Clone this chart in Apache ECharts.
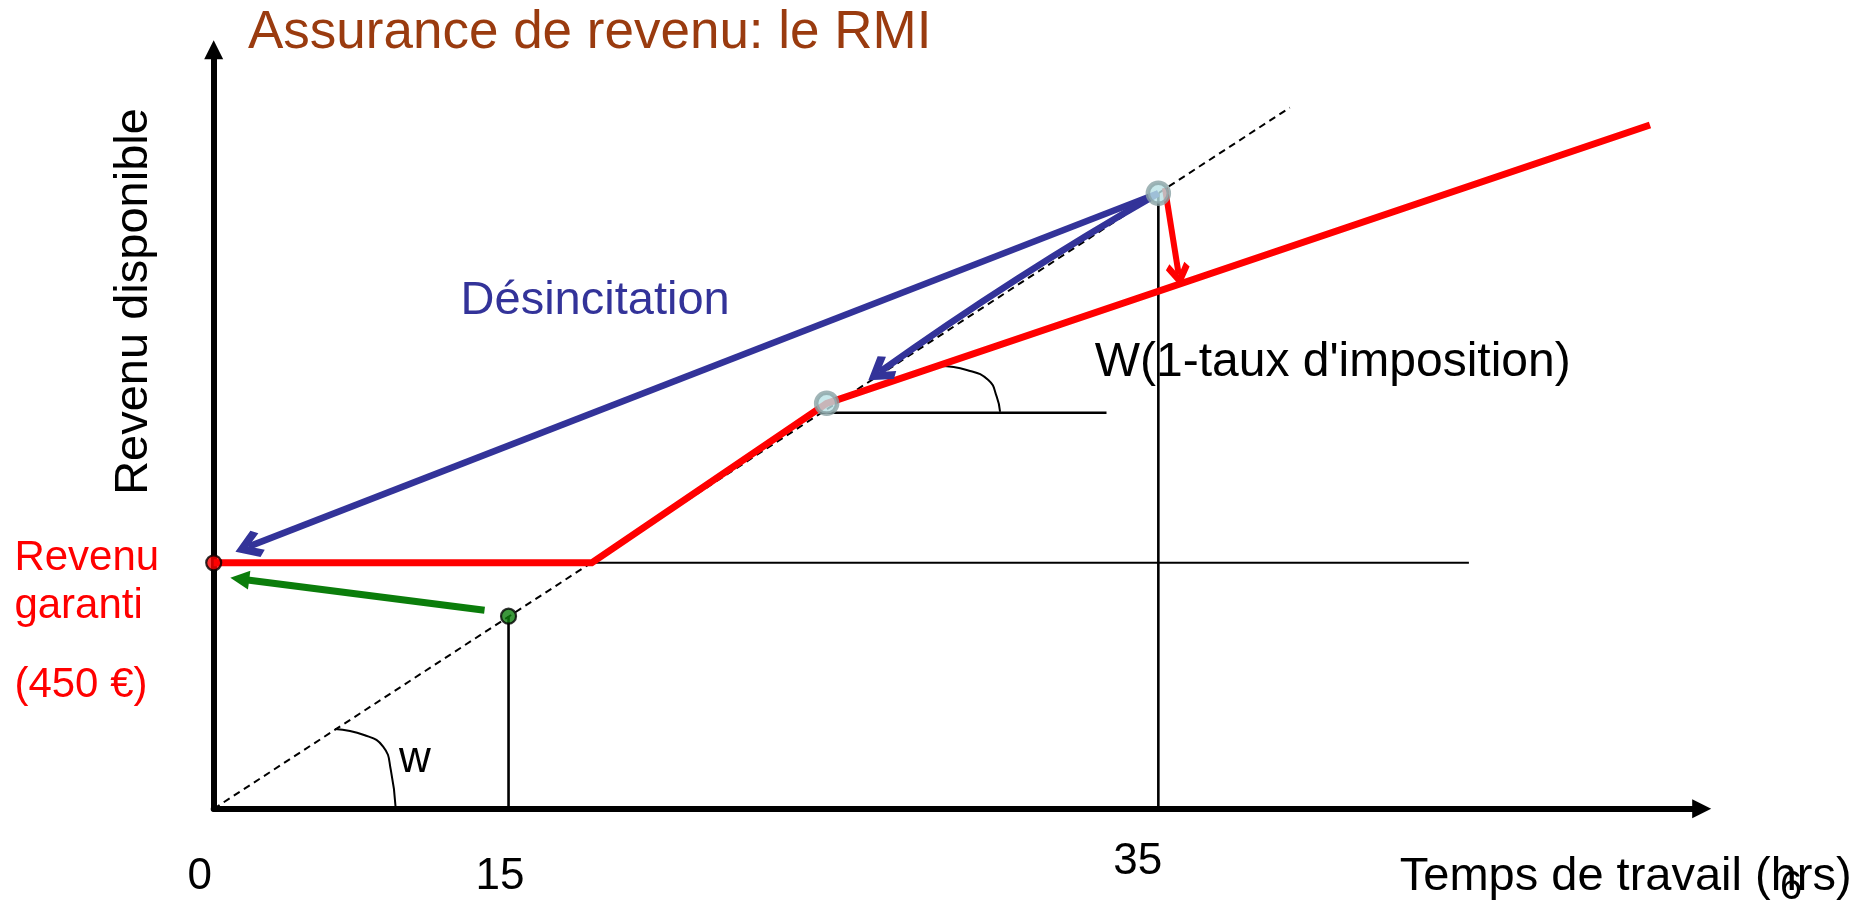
<!DOCTYPE html>
<html>
<head>
<meta charset="utf-8">
<script src="https://cdn.jsdelivr.net/npm/echarts@6/dist/echarts.min.js"></script>
<style>
html,body{margin:0;padding:0;background:#fff;}
#chart{width:1876px;height:902px;}
</style>
</head>
<body>
<div id="chart"></div>
<script>
// ---------- data (diagram units) ----------
const hourTicks = ['0', '15', '35'];
const hourX = [0, 24.57, 78.72];               // where each hour value sits on the working-time axis
const guaranteedIncome = 20.5;                 // "Revenu garanti (450 €)"
const grossWageLine = [[0, 0], [89.67, 58.43]];                 // slope w (dashed)
const netIncomeLine = [[0, 20.5], [31.5, 20.5], [51.08, 33.79], [119.69, 56.98]]; // RMI budget line
const guaranteeLevelEnd = 104.6;
const taxKinkLineEnd = 74.4;
const taxKinkLevel = 33.0;
const pointGuarantee = [0, 20.5];
const pointPartTime = [24.57, 16.05];
const pointKink = [51.08, 33.79];
const pointFullTime = [78.72, 51.29];
const arcW = [[10.12, 6.65], [12.53, 6.15], [14.12, 5.18], [14.76, 3.23], [15.17, 0]];
const arcTax = [[60.53, 36.9], [62.75, 36.57], [64.55, 35.73], [65.25, 34.34], [65.53, 33.09]];
const arrowBlueLong = [[78.72, 51.29], [2.9, 21.85]];
const arrowBlueShort = [[78.72, 51.29], [55.5, 36.4]];
const arrowRed = [[79.27, 51.73], [80.42, 44.5]];
const arrowGreen = [[22.57, 16.55], [2.17, 19.15]];

// ---------- styles ----------
const FONT = "'Liberation Sans', Arial, sans-serif";
const tickLabelOffsets = [[-14, 68], [-8.5, 68], [-20.5, 52.6]];
const chevron = 'path://M10,0 L20,11.5 L16.3,15 L10,7.5 L3.7,15 L0,11.5 Z';

const chart = echarts.init(document.getElementById('chart'), null, {renderer: 'canvas'});

const option = {
  animation: false,
  backgroundColor: '#ffffff',
  grid: {left: 213.7, top: 49.8, width: 1488, height: 759, containLabel: false},
  xAxis: {
    type: 'value', min: 0, max: 124,
    axisLine: {show: true, onZero: false, symbol: ['none', 'triangle'], symbolSize: [19, 19],
      lineStyle: {color: '#000', width: 6}},
    axisTick: {show: false}, axisLabel: {show: false}, splitLine: {show: false}
  },
  yAxis: {
    type: 'value', min: 0, max: 63.25,
    axisLine: {show: true, onZero: false, symbol: ['none', 'triangle'], symbolSize: [19, 19],
      lineStyle: {color: '#000', width: 6}},
    axisTick: {show: false}, axisLabel: {show: false}, splitLine: {show: false}
  },
  series: [
    // dashed gross wage line
    {type: 'line', data: grossWageLine, showSymbol: false, z: 2,
     lineStyle: {color: '#000', width: 2, type: [7, 5]}},
    // thin guide lines
    {type: 'line', data: [[0, guaranteedIncome], [guaranteeLevelEnd, guaranteedIncome]], showSymbol: false, z: 2,
     lineStyle: {color: '#000', width: 2}},
    {type: 'line', data: [[hourX[1], 0], pointPartTime], showSymbol: false, z: 2,
     lineStyle: {color: '#000', width: 2.6}},
    {type: 'line', data: [[hourX[2], 0], pointFullTime], showSymbol: false, z: 2,
     lineStyle: {color: '#000', width: 2.6}},
    {type: 'line', data: [[pointKink[0] - 0.6, taxKinkLevel], [taxKinkLineEnd, taxKinkLevel]], showSymbol: false, z: 2,
     lineStyle: {color: '#000', width: 2.6}},
    // angle arcs
    {type: 'line', data: arcW, smooth: true, showSymbol: false, z: 2, lineStyle: {color: '#000', width: 2}},
    {type: 'line', data: arcTax, smooth: true, showSymbol: false, z: 2, lineStyle: {color: '#000', width: 2}},
    // red budget line
    {type: 'line', data: netIncomeLine, showSymbol: false, z: 3,
     lineStyle: {color: '#ff0000', width: 7, join: 'miter'}},
    // arrows
    {type: 'lines', coordinateSystem: 'cartesian2d', z: 4,
     data: [{coords: arrowBlueLong}],
     symbol: ['none', chevron], symbolSize: [36, 28],
     lineStyle: {color: '#333399', width: 6.5, opacity: 1}},
    {type: 'lines', coordinateSystem: 'cartesian2d', z: 4,
     data: [{coords: arrowBlueShort}],
     symbol: ['none', chevron], symbolSize: [36, 28],
     lineStyle: {color: '#333399', width: 6.5, opacity: 1, curveness: -0.025}},
    {type: 'lines', coordinateSystem: 'cartesian2d', z: 4,
     data: [{coords: arrowRed}],
     symbol: ['none', chevron], symbolSize: [30, 24],
     lineStyle: {color: '#ff0000', width: 6, opacity: 1}},
    {type: 'lines', coordinateSystem: 'cartesian2d', z: 4,
     data: [{coords: arrowGreen}],
     symbol: ['none', 'triangle'], symbolSize: [19, 19],
     lineStyle: {color: '#0b7d0b', width: 7, opacity: 1}},
    // points
    {type: 'scatter', data: [pointGuarantee], symbolSize: 15, z: 5,
     itemStyle: {color: '#ff0000', borderColor: '#000', borderWidth: 2.2}},
    {type: 'scatter', data: [pointPartTime], symbolSize: 15, z: 5,
     itemStyle: {color: '#0b7d0b', borderColor: '#000', borderWidth: 2.2}},
    {type: 'scatter', data: [pointKink, pointFullTime], symbolSize: 21, z: 5,
     itemStyle: {color: '#b9e2e6', borderColor: '#8aa3a5', borderWidth: 4.5}},
    // hour tick labels
    {type: 'scatter', symbolSize: 1, z: 6, itemStyle: {color: 'rgba(0,0,0,0)'},
     data: hourTicks.map((t, i) => ({
       value: [hourX[i], 0], name: t,
       label: {show: true, position: 'inside', formatter: t, offset: tickLabelOffsets[i],
         color: '#000', textBorderWidth: 0, opacity: 1, fontFamily: FONT, fontSize: 44,
         align: 'center', verticalAlign: 'middle'}
     }))}
  ],
  graphic: [
    {type: 'text', x: 248, y: 33, style: {text: 'Assurance de revenu: le RMI', font: '53px ' + FONT, fill: '#9a3b0f', align: 'left', verticalAlign: 'middle'}},
    {type: 'text', x: 134, y: 301.5, rotation: Math.PI / 2, style: {text: 'Revenu disponible', font: '47px ' + FONT, fill: '#000', align: 'center', verticalAlign: 'middle'}},
    {type: 'text', x: 460.6, y: 301.5, style: {text: 'Désincitation', font: '47px ' + FONT, fill: '#333399', align: 'left', verticalAlign: 'middle'}},
    {type: 'text', x: 1094.7, y: 362.5, style: {text: "W(1-taux d'imposition)", font: '48px ' + FONT, fill: '#000', align: 'left', verticalAlign: 'middle'}},
    {type: 'text', x: 14.4, y: 558.7, style: {text: 'Revenu', font: '42px ' + FONT, fill: '#ff0000', align: 'left', verticalAlign: 'middle'}},
    {type: 'text', x: 14.4, y: 606.6, style: {text: 'garanti', font: '42px ' + FONT, fill: '#ff0000', align: 'left', verticalAlign: 'middle'}},
    {type: 'text', x: 14.4, y: 685.5, style: {text: '(450 €)', font: '42px ' + FONT, fill: '#ff0000', align: 'left', verticalAlign: 'middle'}},
    {type: 'text', x: 415, y: 759.7, style: {text: 'w', font: '44px ' + FONT, fill: '#000', align: 'center', verticalAlign: 'middle'}},
    {type: 'text', x: 1399.8, y: 877, style: {text: 'Temps de travail (hrs)', font: '47px ' + FONT, fill: '#000', align: 'left', verticalAlign: 'middle'}},
    {type: 'text', x: 1791, y: 888, style: {text: '6', font: '40px ' + FONT, fill: '#000', align: 'center', verticalAlign: 'middle'}}
  ]
};
chart.setOption(option);
</script>
</body>
</html>
